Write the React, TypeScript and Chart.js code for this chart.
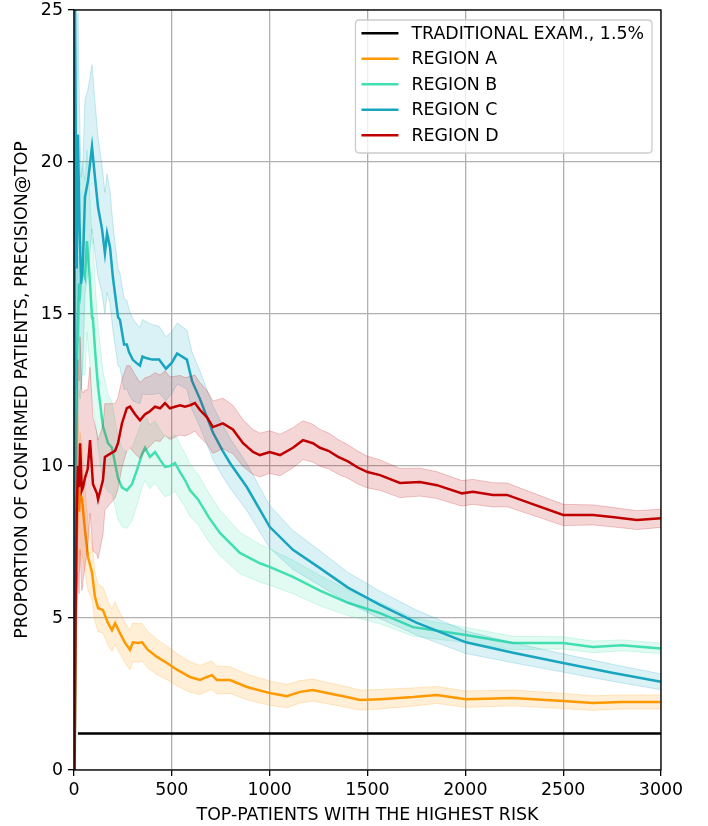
import React, { useEffect, useRef } from "react";
import { Chart, registerables } from "chart.js";

Chart.register(...registerables);

const FONT = "'DejaVu Sans', 'Liberation Sans', sans-serif";
const FONT_SIZE = 17.4;

// ---------- data ----------
const xTickStep = 500;
const yTickStep = 5;
const xMax = 3000;
const yMax = 25;

const xTitle = "TOP-PATIENTS WITH THE HIGHEST RISK";
const yTitle = "PROPORTION OF CONFIRMED PATIENTS, PRECISION@TOP";

const seriesLabels = ["TRADITIONAL EXAM., 1.5%", "REGION A", "REGION B", "REGION C", "REGION D"];
const seriesColors = ["#000000", "#ff9900", "#42e0b0", "#18a5bf", "#c00000"];

const traditionalX = [20, 3000];
const traditionalY = [1.2, 1.2];

const regionAX = [3, 8, 14, 20, 26, 31, 41, 56, 72, 92, 107, 123, 148, 174, 194, 210, 235, 261, 286, 301, 327, 348, 378, 424, 475, 526, 593, 644, 680, 705, 730, 797, 884, 1000, 1088, 1155, 1221, 1293, 1395, 1462, 1564, 1733, 1855, 2003, 2243, 2500, 2652, 2800, 3000];
const regionAY = [0.5, 4.0, 7.5, 9.5, 8.5, 9.1, 8.9, 7.9, 7.0, 6.5, 5.7, 5.33, 5.26, 4.83, 4.6, 4.83, 4.5, 4.18, 3.95, 4.2, 4.18, 4.2, 3.95, 3.72, 3.52, 3.3, 3.06, 2.96, 3.06, 3.12, 2.96, 2.96, 2.73, 2.53, 2.43, 2.57, 2.63, 2.53, 2.4, 2.3, 2.33, 2.4, 2.47, 2.33, 2.37, 2.27, 2.2, 2.24, 2.24];
const regionAErr = [0.5, 1.5, 2.0, 2.2, 2.0, 2.0, 1.8, 1.4, 1.1, 0.9, 0.8, 0.78, 0.75, 0.72, 0.7, 0.7, 0.68, 0.66, 0.65, 0.64, 0.63, 0.62, 0.6, 0.58, 0.55, 0.53, 0.5, 0.48, 0.47, 0.47, 0.46, 0.44, 0.42, 0.4, 0.38, 0.37, 0.36, 0.35, 0.34, 0.33, 0.32, 0.3, 0.28, 0.27, 0.26, 0.25, 0.24, 0.23, 0.23];

const regionBX = [4, 10, 15, 25, 31, 41, 56, 66, 80, 92, 97, 110, 123, 148, 174, 194, 225, 245, 270, 296, 322, 348, 363, 388, 414, 440, 465, 490, 516, 542, 567, 593, 634, 690, 746, 848, 950, 1000, 1119, 1257, 1400, 1564, 1733, 2003, 2243, 2500, 2652, 2800, 3000];
const regionBY = [0, 8, 13, 16, 15.7, 16.5, 16.2, 17.4, 16.2, 14.9, 14.8, 13.6, 12.6, 11.3, 10.75, 10.6, 9.6, 9.3, 9.2, 9.4, 9.87, 10.4, 10.6, 10.3, 10.46, 10.2, 9.97, 10.0, 10.1, 9.8, 9.54, 9.2, 8.9, 8.3, 7.8, 7.14, 6.8, 6.68, 6.35, 5.9, 5.5, 5.16, 4.7, 4.44, 4.18, 4.18, 4.05, 4.1, 4.0];
const regionBErr = [0, 2, 3, 3.5, 3.5, 3.5, 3.2, 3.0, 2.8, 2.6, 2.5, 2.2, 2.0, 1.8, 1.6, 1.5, 1.35, 1.3, 1.25, 1.2, 1.15, 1.1, 1.08, 1.05, 1.02, 1.0, 0.98, 0.95, 0.93, 0.9, 0.88, 0.86, 0.83, 0.8, 0.75, 0.68, 0.62, 0.6, 0.55, 0.5, 0.42, 0.35, 0.3, 0.25, 0.22, 0.2, 0.19, 0.18, 0.17];

const regionCX = [2, 5, 10, 14, 20, 28, 36, 45, 56, 72, 92, 107, 123, 143, 158, 169, 184, 199, 225, 235, 256, 270, 281, 300, 317, 337, 350, 368, 400, 435, 470, 500, 527, 577, 603, 644, 680, 710, 760, 797, 884, 1000, 1119, 1257, 1400, 1564, 1750, 2003, 2250, 2500, 2750, 3000];
const regionCY = [5, 26, 19, 16.5, 20.9, 18, 16.0, 16.6, 18.85, 19.4, 20.5, 19.5, 18.5, 17.8, 17.0, 17.66, 17.2, 16.2, 14.9, 14.8, 14.0, 14.0, 13.75, 13.5, 13.4, 13.3, 13.6, 13.55, 13.5, 13.5, 13.2, 13.4, 13.7, 13.5, 12.8, 12.2, 11.6, 11.1, 10.5, 10.1, 9.3, 8.0, 7.24, 6.64, 6.0, 5.43, 4.85, 4.2, 3.85, 3.52, 3.2, 2.9];
const regionCErr = [3, 4, 4, 4, 4, 3.8, 3.5, 3.3, 3.2, 3.0, 2.7, 2.5, 2.3, 2.1, 2.0, 1.95, 1.85, 1.75, 1.6, 1.55, 1.5, 1.45, 1.4, 1.35, 1.3, 1.25, 1.22, 1.2, 1.15, 1.1, 1.05, 1.02, 1.0, 0.97, 0.95, 0.92, 0.9, 0.88, 0.85, 0.82, 0.77, 0.7, 0.64, 0.57, 0.5, 0.45, 0.41, 0.37, 0.33, 0.3, 0.28, 0.26];

const regionDX = [3, 8, 14, 20, 26, 31, 40, 46, 56, 70, 82, 97, 117, 123, 148, 158, 184, 210, 225, 245, 270, 286, 312, 337, 363, 388, 414, 440, 465, 490, 516, 542, 567, 593, 618, 644, 680, 710, 761, 812, 864, 915, 950, 1000, 1053, 1119, 1170, 1221, 1257, 1300, 1350, 1400, 1450, 1500, 1564, 1666, 1768, 1855, 1983, 2039, 2141, 2213, 2330, 2500, 2652, 2750, 2877, 3000];
const regionDY = [0, 5, 8.5, 10.0, 9.3, 10.75, 9.2, 9.3, 9.6, 9.9, 10.85, 9.4, 9.1, 8.9, 9.54, 10.3, 10.4, 10.5, 10.75, 11.4, 11.9, 11.95, 11.7, 11.5, 11.7, 11.8, 11.95, 11.9, 12.07, 11.9, 11.95, 12.0, 11.95, 12.0, 12.07, 11.84, 11.6, 11.28, 11.4, 11.2, 10.75, 10.46, 10.36, 10.46, 10.36, 10.6, 10.85, 10.75, 10.6, 10.5, 10.3, 10.15, 9.95, 9.8, 9.7, 9.44, 9.47, 9.37, 9.1, 9.15, 9.05, 9.05, 8.78, 8.39, 8.39, 8.32, 8.22, 8.28];
const regionDErr = [0, 2, 3, 3.5, 3.5, 3.5, 3.3, 3.1, 2.9, 2.6, 2.4, 2.2, 2.0, 1.95, 1.8, 1.75, 1.65, 1.55, 1.5, 1.45, 1.4, 1.35, 1.3, 1.25, 1.2, 1.15, 1.12, 1.09, 1.06, 1.03, 1.0, 0.98, 0.96, 0.94, 0.92, 0.9, 0.88, 0.86, 0.83, 0.8, 0.77, 0.74, 0.72, 0.7, 0.68, 0.66, 0.64, 0.62, 0.6, 0.59, 0.57, 0.55, 0.54, 0.52, 0.5, 0.48, 0.46, 0.44, 0.42, 0.41, 0.4, 0.39, 0.37, 0.35, 0.33, 0.32, 0.31, 0.3];

// ---------- helpers ----------
function rgba(hex: string, a: number) {
  const n = parseInt(hex.slice(1), 16);
  return `rgba(${(n >> 16) & 255},${(n >> 8) & 255},${n & 255},${a})`;
}

function pts(xs: number[], ys: number[], offs?: number[], sign = 0) {
  return xs.map((x, i) => ({ x, y: ys[i] + (offs ? sign * offs[i] : 0) }));
}

const framePlugin = {
  id: "frame",
  afterDatasetsDraw(chart: any) {
    const { ctx, chartArea } = chart;
    const { left, top, right, bottom } = chartArea;
    ctx.save();
    ctx.strokeStyle = "#000";
    ctx.lineWidth = 1.3;
    ctx.strokeRect(left, top, right - left, bottom - top);
    ctx.restore();
  },
};

const legendPlugin = {
  id: "innerLegend",
  afterDraw(chart: any) {
    const { ctx, chartArea } = chart;
    ctx.save();
    ctx.font = `${FONT_SIZE}px ${FONT}`;
    const textW = Math.max(...seriesLabels.map((l) => ctx.measureText(l).width));
    const padL = 6, handle = 37, gap = 13, padR = 8;
    const boxW = padL + handle + gap + textW + padR;
    const rowH = 25.5;
    const boxH = 13 + rowH * (seriesLabels.length - 1) + 18;
    const right = chartArea.right - 9;
    const left = right - boxW;
    const top = chartArea.top + 10;
    const r = 4;
    ctx.beginPath();
    ctx.moveTo(left + r, top);
    ctx.lineTo(right - r, top);
    ctx.quadraticCurveTo(right, top, right, top + r);
    ctx.lineTo(right, top + boxH - r);
    ctx.quadraticCurveTo(right, top + boxH, right - r, top + boxH);
    ctx.lineTo(left + r, top + boxH);
    ctx.quadraticCurveTo(left, top + boxH, left, top + boxH - r);
    ctx.lineTo(left, top + r);
    ctx.quadraticCurveTo(left, top, left + r, top);
    ctx.closePath();
    ctx.fillStyle = "rgba(255,255,255,0.8)";
    ctx.fill();
    ctx.strokeStyle = "#cccccc";
    ctx.lineWidth = 1.3;
    ctx.stroke();
    seriesLabels.forEach((label, i) => {
      const cy = top + 13.3 + i * rowH;
      ctx.strokeStyle = seriesColors[i];
      ctx.lineWidth = 2.5;
      ctx.beginPath();
      ctx.moveTo(left + padL, cy);
      ctx.lineTo(left + padL + handle, cy);
      ctx.stroke();
      ctx.fillStyle = "#000";
      ctx.textBaseline = "middle";
      ctx.textAlign = "left";
      ctx.fillText(label, left + padL + handle + gap, cy + 1);
    });
    ctx.restore();
  },
};

export default function App() {
  const ref = useRef<HTMLCanvasElement | null>(null);

  useEffect(() => {
    if (!ref.current) return;
    const regions = [
      { x: regionAX, y: regionAY, e: regionAErr },
      { x: regionBX, y: regionBY, e: regionBErr },
      { x: regionCX, y: regionCY, e: regionCErr },
      { x: regionDX, y: regionDY, e: regionDErr },
    ];
    const datasets: any[] = [];
    let seq = 0;
    const total = 1 + regions.length * 3;
    datasets.push({
      label: seriesLabels[0],
      data: pts(traditionalX, traditionalY),
      borderColor: seriesColors[0],
      borderWidth: 2.5,
      pointRadius: 0,
      fill: false,
      order: total - seq++,
    });
    regions.forEach((r, i) => {
      const c = seriesColors[i + 1];
      datasets.push({
        label: "",
        data: pts(r.x, r.y, r.e, -1),
        borderColor: rgba(c, 0.22),
        borderWidth: 1,
        pointRadius: 0,
        fill: false,
        order: total - seq++,
      });
      datasets.push({
        label: "",
        data: pts(r.x, r.y, r.e, 1),
        borderColor: rgba(c, 0.22),
        backgroundColor: rgba(c, 0.16),
        borderWidth: 1,
        pointRadius: 0,
        fill: "-1",
        order: total - seq++,
      });
      datasets.push({
        label: seriesLabels[i + 1],
        data: pts(r.x, r.y),
        borderColor: c,
        borderWidth: 2.5,
        pointRadius: 0,
        fill: false,
        order: total - seq++,
      });
    });

    const tickFont = { family: FONT, size: FONT_SIZE };
    const plain = (v: any) => String(v);
    const chart = new Chart(ref.current, {
      type: "line",
      data: { datasets },
      options: {
        animation: false,
        responsive: false,
        devicePixelRatio: 1,
        layout: { padding: { left: 12, top: 10, right: 47, bottom: 0 } },
        plugins: { legend: { display: false }, tooltip: { enabled: false } },
        elements: { line: { tension: 0 } },
        scales: {
          x: {
            type: "linear",
            min: 0,
            max: xMax,
            ticks: { stepSize: xTickStep, color: "#000", font: tickFont, padding: 4, maxRotation: 0, callback: plain },
            grid: { color: "#b0b0b0", lineWidth: 1.3, tickColor: "#000", tickLength: 6, tickWidth: 1.3 },
            border: { display: false },
            title: { display: true, text: xTitle, color: "#000", font: tickFont, padding: 0 },
            afterFit: (s: any) => { s.height = 56; s.paddingLeft = 0; s.paddingRight = 0; },
          },
          y: {
            type: "linear",
            min: 0,
            max: yMax,
            ticks: { stepSize: yTickStep, color: "#000", font: tickFont, padding: 5, callback: plain },
            grid: { color: "#b0b0b0", lineWidth: 1.3, tickColor: "#000", tickLength: 6, tickWidth: 1.3 },
            border: { display: false },
            title: { display: true, text: yTitle, color: "#000", font: tickFont, padding: 0 },
            afterFit: (s: any) => { s.width = 62; s.paddingTop = 0; s.paddingBottom = 0; },
          },
        },
      },
      plugins: [framePlugin, legendPlugin],
    } as any);
    return () => chart.destroy();
  }, []);

  return (
    <div style={{ position: "absolute", left: 0, top: 0, width: 708, height: 826, background: "#fff" }}>
      <canvas ref={ref} width={708} height={826} style={{ width: 708, height: 826, display: "block" }} />
    </div>
  );
}
